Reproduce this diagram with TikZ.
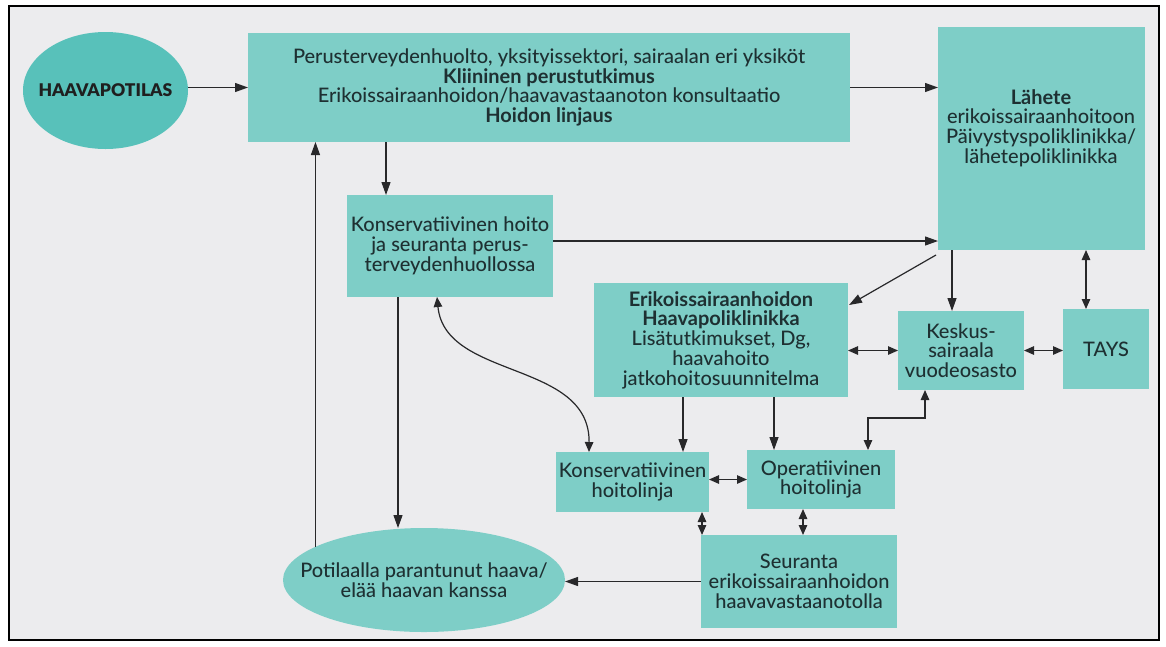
\documentclass[tikz,border=0pt]{standalone}
\usepackage{fontspec}
\setmainfont{Lato Medium}[BoldFont={Lato Bold}]
\newfontfamily\heavyfont{Lato Black}
\usetikzlibrary{arrows.meta,shapes.geometric,calc}
\definecolor{boxfill}{RGB}{126,206,199}
\definecolor{ovalfill}{RGB}{88,193,186}
\definecolor{ink}{RGB}{30,48,50}
\definecolor{linec}{RGB}{40,40,42}
\definecolor{paper}{RGB}{236,236,238}
\begin{document}
\begin{tikzpicture}[x=1pt,y=-1pt,
  txt/.style={align=center, text=ink, inner sep=0pt, font=\fontsize{20}{19.8}\selectfont},
  box/.style={txt, fill=boxfill, outer sep=0pt},
  oval/.style={ellipse, fill=boxfill, inner sep=0pt, outer sep=0pt},
  arr/.style={draw=linec, line width=1.2pt, -{Triangle[length=13pt,width=9pt]}},
  darr/.style={draw=linec, line width=1.2pt, {Triangle[length=10pt,width=8.5pt]}-{Triangle[length=10pt,width=8.5pt]}}]
% page and frame
\useasboundingbox (0,0) rectangle (1166,646);
\fill[white] (0,0) rectangle (1166,646);
\draw[fill=paper, line width=1.5pt] (9,6) rectangle (1159,640);

% nodes
\node[oval, fill=ovalfill, minimum width=165pt, minimum height=117pt] (haava) at (105.5,90.5) {};
\node[txt, font=\fontsize{17.5}{19}\heavyfont, text=black!88] (haavatxt) at (haava.center) {HAAVAPOTILAS};
\node[box, minimum width=602pt, minimum height=109pt] (big) at (549,87.5)
  {Perusterveydenhuolto, yksityissektori, sairaalan eri yksiköt\\
   \textbf{Kliininen perustutkimus}\\
   Erikoissairaanhoidon/haavavastaanoton konsultaatio\\
   \textbf{Hoidon linjaus}};
\node[box, minimum width=207pt, minimum height=223pt] (lahete) at (1041.5,138.5) {};
\node[txt] (lahetetxt) at (1041,128)
  {\textbf{Lähete}\\ erikoissairaanhoitoon\\ Päivystyspoliklinikka/\\ lähetepoliklinikka};
\node[box, minimum width=206pt, minimum height=102pt] (kons) at (450,246)
  {Konservatiivinen hoito\\ ja seuranta perus-\\ terveydenhuollossa};
\node[box, minimum width=254pt, minimum height=114pt] (erik) at (721,340)
  {\textbf{Erikoissairaanhoidon}\\ \textbf{Haavapoliklinikka}\\ Lisätutkimukset, Dg,\\ haavahoito\\ jatkohoitosuunnitelma};
\node[box, minimum width=126pt, minimum height=79pt] (kesk) at (961,350.5)
  {Keskus-\\ sairaala\\ vuodeosasto};
\node[box, minimum width=86pt, minimum height=80pt] (tays) at (1106,349) {TAYS};
\node[box, minimum width=153pt, minimum height=60pt] (klin) at (632.5,482)
  {Konservatiivinen\\ hoitolinja};
\node[box, minimum width=148pt, minimum height=59pt] (olin) at (821,479.5)
  {Operatiivinen\\ hoitolinja};
\node[box, minimum width=196pt, minimum height=93pt] (seur) at (799,581.5)
  {Seuranta\\ erikoissairaanhoidon\\ haavavastaanotolla};
\node[oval, minimum width=282pt, minimum height=104pt] (pot) at (424,580) {};
\node[txt] (pottxt) at (pot.center) {Potilaalla parantunut haava/\\ elää haavan kanssa};

% connector anchor points
\coordinate (k1) at ($(kons.north west)+(39,0)$);
\coordinate (k2) at ($(kons.south west)+(51,0)$);
\coordinate (k3) at ($(kons.south west)+(90,0)$);
\coordinate (k4) at ($(klin.north west)+(33,0)$);
\coordinate (k5) at ($(kons.east)+(0,-5)$);
\coordinate (k6) at ($(kesk.north west)+(54,0)$);
\coordinate (k7) at ($(tays.north west)+(23,0)$);
\coordinate (k8) at ($(klin.north west)+(127,0)$);
\coordinate (k9) at ($(olin.north west)+(27,0)$);
\coordinate (k10) at ($(olin.north west)+(121,0)$);
\coordinate (k11) at ($(kesk.south west)+(27,0)$);
\coordinate (k12) at ($(seur.north west)+(1,0)$);
\coordinate (k13) at ($(seur.north west)+(102,0)$);
\coordinate (ld) at ($(lahete.south west)+(-2,5)$);
\coordinate (ed) at ($(erik.north east)+(1,22)$);

% connectors
\draw[arr] (haava.east |- big.west) -- (big.west);
\draw[arr] (big.east) -- (big.east -| lahete.west);
\draw[arr] (k1 |- big.south) -- (k1);
\draw[arr] (pot.163) -- (pot.163 |- big.south);
\draw[arr] (k2) -- (k2 |- pot.north);
\draw[darr] (k3) .. controls +(8,83) and +(1,-92) .. (k4);
\draw[arr] (k5) -- (k5 -| lahete.west);
\draw[arr] (ld) -- (ed);
\draw[arr] (k6 |- lahete.south) -- (k6);
\draw[darr] (k7 |- lahete.south) -- (k7);
\draw[darr] (kesk.east) -- (kesk.east -| tays.west);
\draw[darr] (erik.east |- kesk.west) -- (kesk.west);
\draw[arr] (k8 |- erik.south) -- (k8);
\draw[arr] (k9 |- erik.south) -- (k9);
\draw[darr] (k10) -- ++(0,-32) -| (k11);
\draw[darr] (klin.east |- olin.west) -- (olin.west);
\draw[darr] (k12 |- klin.south) -- (k12);
\draw[darr] (k13 |- olin.south) -- (k13);
\draw[arr] (seur.west) -- (seur.west -| pot.east);
\end{tikzpicture}
\end{document}
